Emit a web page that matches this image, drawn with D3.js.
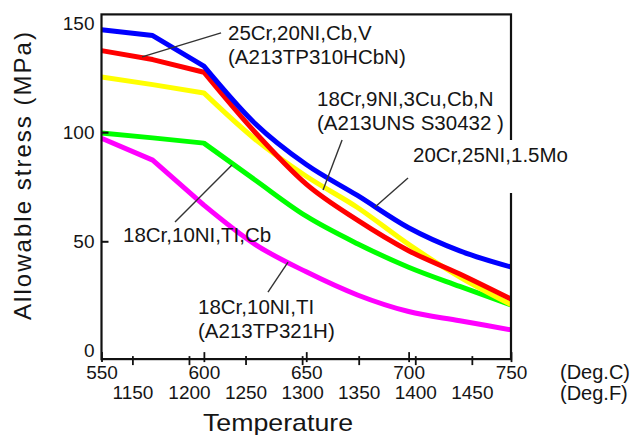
<!DOCTYPE html>
<html>
<head>
<meta charset="utf-8">
<script src="https://cdn.jsdelivr.net/npm/d3@7"></script>
<style>
  body { margin: 0; background: #fff; }
  text { font-family: "Liberation Sans", Arial, sans-serif; fill: #151515; }
</style>
</head>
<body>
<script>
// temperatures (Deg.C) where the curves were read
const tempsC = [550, 575, 600, 625, 650, 675, 700, 725, 750];
const ticksC = [550, 600, 650, 700, 750];
const ticksF = [1150, 1200, 1250, 1300, 1350, 1400, 1450];
const ticksY = [0, 50, 100, 150];

// allowable stress (MPa) per steel
const blueVals    = [147.0, 144.3, 130.3, 104.0, 85.2, 71.0, 56.2, 45.6, 38.2];
const redVals     = [137.4, 133.3, 127.5, 100.0, 76.2, 59.7, 45.7, 35.0, 23.5];
const yellowVals  = [125.3, 121.8, 118.0, 96.8, 79.8, 65.5, 48.6, 33.6, 21.0];
const greenVals   = [99.6, 97.4, 95.0, 78.1, 61.5, 48.9, 38.1, 29.3, 20.8];
const magentaVals = [97.2, 87.2, 66.6, 48.6, 36.0, 25.4, 17.8, 13.6, 9.4];

const series = [
  { nom: "magenta", couleur: "#ff00ff", vals: magentaVals },
  { nom: "green", couleur: "#00ff00", vals: greenVals },
  { nom: "yellow", couleur: "#ffff00", vals: yellowVals },
  { nom: "red", couleur: "#ff0000", vals: redVals },
  { nom: "blue", couleur: "#0000ff", vals: blueVals }
];

var width = 633, height = 435;

var svg = d3.select("body").append("svg")
  .attr("width", width)
  .attr("height", height);

svg.append("rect").attr("width", width).attr("height", height).attr("fill", "#fff");

// scales
var x = d3.scaleLinear().domain([550, 750]).range([101.5, 511]);
// the Deg.F row on the original is not aligned with the Deg.C row, it has its own scale
var xF = d3.scaleLinear().domain([1122.7, 1484.6]).range([101.5, 511]);
var y = d3.scaleLinear().domain([-4, 154]).range([359.1, 14.4]);

// curves: straight pieces up to 600 (sharp bend there), smooth afterwards
var ligneDroite = d3.line().x(d => x(d[0])).y(d => y(d[1]));
var ligneLisse = d3.line().x(d => x(d[0])).y(d => y(d[1])).curve(d3.curveMonotoneX);

function chemin(vals) {
  let pts = vals.map((v, i) => [tempsC[i], v]);
  let debut = pts.filter(p => p[0] <= 600);
  let fin = pts.filter(p => p[0] >= 600);
  return ligneDroite(debut) + ligneLisse(fin).replace(/^M/, "L");
}

svg.selectAll(".courbe").data(series).enter()
  .append("path")
  .attr("class", "courbe")
  .attr("d", d => chemin(d.vals))
  .attr("fill", "none")
  .attr("stroke", d => d.couleur)
  .attr("stroke-width", 5)
  .attr("stroke-linejoin", "round");

// frame
svg.append("rect")
  .attr("x", x(550))
  .attr("y", y(154))
  .attr("width", x(750) - x(550))
  .attr("height", y(-4) - y(154))
  .attr("fill", "none")
  .attr("stroke", "#111")
  .attr("stroke-width", 2.2);

// y axis
var axeY = svg.append("g")
  .attr("transform", "translate(" + x(550) + ",0)")
  .call(d3.axisLeft(y).tickValues(ticksY).tickSize(-7).tickPadding(7));
axeY.select(".domain").remove();
axeY.selectAll("line")
  .attr("stroke", "#111")
  .attr("stroke-width", 2)
  .attr("opacity", d => (d === 50 || d === 100) ? 1 : 0);
axeY.selectAll("text")
  .attr("font-size", 19)
  .attr("font-family", "Liberation Sans, Arial, sans-serif")
  .attr("fill", "#151515");

// x axis, Deg.C
var axeX = svg.append("g")
  .attr("transform", "translate(0," + y(-4) + ")")
  .call(d3.axisBottom(x).tickValues(ticksC).tickSize(-7).tickPadding(6));
axeX.select(".domain").remove();
axeX.selectAll("line").attr("y1", 3).attr("stroke", "#111").attr("stroke-width", 1.8);
axeX.selectAll("text")
  .attr("font-size", 19)
  .attr("font-family", "Liberation Sans, Arial, sans-serif")
  .attr("fill", "#151515");

// x axis, Deg.F
var axeF = svg.append("g")
  .attr("transform", "translate(0," + y(-4) + ")")
  .call(d3.axisBottom(xF).tickValues(ticksF).tickFormat(d3.format("d")).tickSize(6).tickPadding(20));
axeF.select(".domain").remove();
axeF.selectAll("line").attr("y1", -3).attr("stroke", "#111").attr("stroke-width", 1.8);
axeF.selectAll("text")
  .attr("font-size", 19)
  .attr("font-family", "Liberation Sans, Arial, sans-serif")
  .attr("fill", "#151515");

svg.append("text").attr("x", 560).attr("y", 379).attr("font-size", 20).text("(Deg.C)");
svg.append("text").attr("x", 560).attr("y", 400).attr("font-size", 20).text("(Deg.F)");

// axis titles
svg.append("text")
  .attr("x", 278).attr("y", 431)
  .attr("text-anchor", "middle")
  .attr("font-size", 24)
  .attr("textLength", 150)
  .attr("lengthAdjust", "spacingAndGlyphs")
  .text("Temperature");

svg.append("text")
  .attr("transform", "translate(31,176) rotate(-90)")
  .attr("text-anchor", "middle")
  .attr("font-size", 24)
  .attr("textLength", 288)
  .attr("lengthAdjust", "spacing")
  .text("Allowable stress (MPa)");

// annotations: leader from a point on a curve (t, v) to (t2, v2), text lines at (tx, ty) baseline
const annotations = [
  { lignes: ["25Cr,20NI,Cb,V", "(A213TP310HCbN)"], tx: 228, ty: 40, t: 569.8, v: 134.5, t2: 608.4, v2: 145.5 },
  { lignes: ["18Cr,9NI,3Cu,Cb,N", "(A213UNS S30432 )"], tx: 317, ty: 106, t: 658.2, v: 73.5, t2: 667.5, v2: 96.4 },
  { lignes: ["20Cr,25NI,1.5Mo"], tx: 413, ty: 162, t: 683.6, v: 65.7, t2: 699.7, v2: 79.0, trou: true },
  { lignes: ["18Cr,10NI,TI,Cb"], tx: 123, ty: 242, t: 613.7, v: 85.0, t2: 585.9, v2: 58.8 },
  { lignes: ["18Cr,10NI,TI", "(A213TP321H)"], tx: 198, ty: 314, t: 641.1, v: 40.5, t2: 631.3, v2: 26.7 }
];

annotations.forEach(function(a) {
  if (a.trou) {
    // the label cuts the right border of the frame
    svg.append("rect")
      .attr("x", x(750) - 3).attr("y", a.ty - 22)
      .attr("width", 6).attr("height", 53)
      .attr("fill", "#fff");
  }
  svg.append("line")
    .attr("x1", x(a.t)).attr("y1", y(a.v))
    .attr("x2", x(a.t2)).attr("y2", y(a.v2))
    .attr("stroke", "#333")
    .attr("stroke-width", 1.4);
  a.lignes.forEach(function(l, i) {
    svg.append("text")
      .attr("x", a.tx)
      .attr("y", a.ty + i * 24)
      .attr("font-size", 20.5)
      .text(l);
  });
});
</script>
</body>
</html>
